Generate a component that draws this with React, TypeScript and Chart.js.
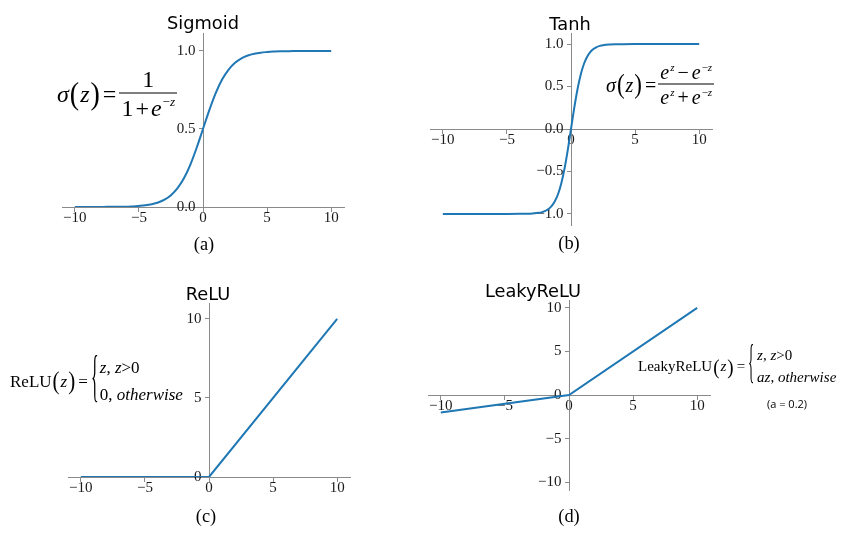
import React, { useEffect, useRef } from 'react';
import { Chart, registerables } from 'chart.js';

Chart.register(...registerables);

// ---------------- data ----------------
const X_TICKS = [-10, -5, 0, 5, 10];
const X_TICK_LABELS = ['−10', '−5', '0', '5', '10'];

const SIGMOID_Z = [
  -10, -9.5, -9, -8.5, -8, -7.5, -7, -6.5, -6, -5.5, -5, -4.5, -4, -3.5, -3, -2.5, -2, -1.5, -1, -0.5,
  0, 0.5, 1, 1.5, 2, 2.5, 3, 3.5, 4, 4.5, 5, 5.5, 6, 6.5, 7, 7.5, 8, 8.5, 9, 9.5, 10,
];
const SIGMOID_Y = [
  0.0, 0.0, 0.0, 0.0, 0.0, 0.001, 0.001, 0.002, 0.002, 0.004, 0.007, 0.011, 0.018, 0.029, 0.047, 0.076, 0.119, 0.182, 0.269, 0.378,
  0.5, 0.622, 0.731, 0.818, 0.881, 0.924, 0.953, 0.971, 0.982, 0.989, 0.993, 0.996, 0.998, 0.998, 0.999, 0.999, 1.0, 1.0, 1.0, 1.0, 1.0,
];
const SIGMOID_Y_TICKS = [0, 0.5, 1.0];
const SIGMOID_Y_LABELS = ['0.0', '0.5', '1.0'];

const TANH_Z = [
  -10, -9, -8, -7, -6, -5, -4, -3.5, -3, -2.5, -2.25, -2, -1.75, -1.5, -1.25, -1, -0.75, -0.5, -0.25,
  0, 0.25, 0.5, 0.75, 1, 1.25, 1.5, 1.75, 2, 2.25, 2.5, 3, 3.5, 4, 5, 6, 7, 8, 9, 10,
];
const TANH_Y = [
  -1, -1, -1, -1, -1, -1, -0.999, -0.998, -0.995, -0.987, -0.978, -0.964, -0.941, -0.905, -0.848, -0.762, -0.635, -0.462, -0.245,
  0, 0.245, 0.462, 0.635, 0.762, 0.848, 0.905, 0.941, 0.964, 0.978, 0.987, 0.995, 0.998, 0.999, 1, 1, 1, 1, 1, 1,
];
const TANH_Y_TICKS = [-1.0, -0.5, 0, 0.5, 1.0];
const TANH_Y_LABELS = ['−1.0', '−0.5', '0.0', '0.5', '1.0'];

const RELU_Z = [-10, 0, 10];
const RELU_Y = [0, 0, 10];
const RELU_Y_TICKS = [0, 5, 10];
const RELU_Y_LABELS = ['0', '5', '10'];

const LEAKY_Z = [-10, 0, 10];
const LEAKY_Y = [-2, 0, 10];
const LEAKY_Y_TICKS = [-10, -5, 0, 5, 10];
const LEAKY_Y_LABELS = ['−10', '−5', '0', '5', '10'];

// ---------------- styles ----------------
const W = 850;
const H = 541;
const BLUE = '#1f77b4';
const AXIS = '#8a8a8a';
const SERIF = '"Liberation Serif", "Times New Roman", serif';
const SANS = '"DejaVu Sans", sans-serif';

type Area = { left: number; right: number; top: number; bottom: number };

type PlotProps = {
  z: number[];
  y: number[];
  smooth: boolean;
  yTicks: number[];
  yLabels: string[];
  yMin: number;
  yMax: number;
  area: Area;
};

function Plot({ z, y, smooth, yTicks, yLabels, yMin, yMax, area }: PlotProps) {
  const ref = useRef<HTMLCanvasElement>(null);
  useEffect(() => {
    if (!ref.current) return;
    const tickFont = { family: SERIF, size: 15, lineHeight: 1 };
    const chart = new Chart(ref.current, {
      type: 'line',
      data: {
        datasets: [
          {
            data: z.map((v, i) => ({ x: v, y: y[i] })),
            borderColor: BLUE,
            borderWidth: 2,
            pointRadius: 0,
            fill: false,
            cubicInterpolationMode: smooth ? 'monotone' : 'default',
            tension: 0,
          },
        ],
      },
      options: {
        animation: false,
        responsive: false,
        events: [],
        layout: {
          padding: { left: area.left, right: W - area.right, top: area.top, bottom: H - area.bottom },
        },
        plugins: { legend: { display: false }, tooltip: { enabled: false }, title: { display: false } },
        scales: {
          x: {
            type: 'linear',
            min: -11,
            max: 11,
            position: { y: 0 } as any,
            afterBuildTicks: (s: any) => {
              s.ticks = X_TICKS.map((v) => ({ value: v }));
            },
            ticks: {
              callback: (_v: any, i: number) => X_TICK_LABELS[i],
              font: tickFont,
              color: '#1a1a1a',
              padding: 0,
              maxRotation: 0,
              minRotation: 0,
              autoSkip: false,
            },
            grid: { drawOnChartArea: false, drawTicks: true, tickLength: 4, color: AXIS },
            border: { display: true, color: AXIS, width: 1 },
          },
          y: {
            type: 'linear',
            min: yMin,
            max: yMax,
            position: { x: 0 } as any,
            afterBuildTicks: (s: any) => {
              s.ticks = yTicks.map((v) => ({ value: v }));
            },
            ticks: {
              callback: (_v: any, i: number) => yLabels[i] + '\u2002',
              font: tickFont,
              color: '#1a1a1a',
              autoSkip: false,
            },
            grid: { drawOnChartArea: false, drawTicks: true, tickLength: 4, color: AXIS },
            border: { display: true, color: AXIS, width: 1 },
          },
        },
      } as any,
    });
    return () => chart.destroy();
  }, []);
  return (
    <canvas
      ref={ref}
      width={W}
      height={H}
      style={{ position: 'absolute', left: 0, top: 0, width: W, height: H }}
    />
  );
}

// ---------------- formula helpers ----------------
function Paren({ ch, size }: { ch: string; size: number }) {
  return (
    <span style={{ display: 'inline-block', fontSize: size, transform: 'scaleY(1.15)', margin: '0 1px' }}>{ch}</span>
  );
}

function Sup({ children }: { children: React.ReactNode }) {
  return (
    <span style={{ fontSize: '0.55em', position: 'relative', top: '-0.75em', marginLeft: 1 }}>{children}</span>
  );
}

function Frac({ num, den }: { num: React.ReactNode; den: React.ReactNode }) {
  return (
    <span style={{ display: 'inline-flex', flexDirection: 'column', alignItems: 'stretch' }}>
      <span style={{ padding: '0 2px 2px', textAlign: 'center' }}>{num}</span>
      <span style={{ borderTop: '1.3px solid #000', padding: '2px 2px 0', textAlign: 'center' }}>{den}</span>
    </span>
  );
}

function Brace({ h }: { h: number }) {
  const fs = h / 0.87;
  return (
    <span style={{ display: 'inline-block', position: 'relative', width: 8, height: h, margin: '0 1px' }}>
      <span
        style={{
          position: 'absolute',
          left: 0,
          top: '50%',
          fontSize: fs,
          lineHeight: 1,
          transform: `translateY(calc(-50% - ${0.078 * fs}px)) scaleX(0.28)`,
          transformOrigin: 'left center',
        }}
      >
        {'{'}
      </span>
    </span>
  );
}

const abs = (left: number, top: number, extra: React.CSSProperties = {}): React.CSSProperties => ({
  position: 'absolute',
  left,
  top,
  lineHeight: 1,
  whiteSpace: 'nowrap',
  color: '#000',
  ...extra,
});

export default function App() {
  useEffect(() => {
    document.body.style.margin = '0';
  }, []);

  const titleStyle = { fontFamily: SANS, fontSize: 17.8, transform: 'translateX(-50%)' };
  const capStyle = { fontFamily: SERIF, fontSize: 18.4, transform: 'translateX(-50%)' };

  return (
    <div style={{ position: 'absolute', left: 0, top: 0, width: W, height: H, background: '#fff', overflow: 'hidden' }}>
      <Plot
        z={SIGMOID_Z}
        y={SIGMOID_Y}
        smooth
        yTicks={SIGMOID_Y_TICKS}
        yLabels={SIGMOID_Y_LABELS}
        yMin={0}
        yMax={1.115}
        area={{ left: 62, right: 344, top: 33, bottom: 207 }}
      />
      <Plot
        z={TANH_Z}
        y={TANH_Y}
        smooth
        yTicks={TANH_Y_TICKS}
        yLabels={TANH_Y_LABELS}
        yMin={-1.13}
        yMax={1.13}
        area={{ left: 430, right: 712, top: 33, bottom: 225 }}
      />
      <Plot
        z={RELU_Z}
        y={RELU_Y}
        smooth={false}
        yTicks={RELU_Y_TICKS}
        yLabels={RELU_Y_LABELS}
        yMin={0}
        yMax={11}
        area={{ left: 68, right: 350, top: 303, bottom: 477 }}
      />
      <Plot
        z={LEAKY_Z}
        y={LEAKY_Y}
        smooth={false}
        yTicks={LEAKY_Y_TICKS}
        yLabels={LEAKY_Y_LABELS}
        yMin={-10.9}
        yMax={10.9}
        area={{ left: 428, right: 710, top: 300, bottom: 490 }}
      />

      {/* titles */}
      <div style={abs(203, 14, titleStyle)}>Sigmoid</div>
      <div style={abs(570, 15, titleStyle)}>Tanh</div>
      <div style={abs(208, 285, titleStyle)}>ReLU</div>
      <div style={abs(533, 282, titleStyle)}>LeakyReLU</div>

      {/* captions */}
      <div style={abs(204, 235, capStyle)}>(a)</div>
      <div style={abs(569, 234, capStyle)}>(b)</div>
      <div style={abs(206, 507, capStyle)}>(c)</div>
      <div style={abs(569, 507, capStyle)}>(d)</div>

      {/* formula (a) */}
      <div
        style={abs(57, 93, {
          transform: 'translateY(-50%)',
          display: 'flex',
          alignItems: 'center',
          fontFamily: SERIF,
          fontSize: 24,
        })}
      >
        <i>σ</i>
        <Paren ch="(" size={28} />
        <i>z</i>
        <Paren ch=")" size={28} />
        <span style={{ margin: '0 3px 0 2px' }}>=</span>
        <Frac
          num={<span>1</span>}
          den={
            <span>
              1<span style={{ margin: '0 2px' }}>+</span>
              <i>e</i>
              <Sup>
                −<i>z</i>
              </Sup>
            </span>
          }
        />
      </div>

      {/* formula (b) */}
      <div
        style={abs(606, 84, {
          transform: 'translateY(-50%)',
          display: 'flex',
          alignItems: 'center',
          fontFamily: SERIF,
          fontSize: 20,
        })}
      >
        <i>σ</i>
        <Paren ch="(" size={23} />
        <i>z</i>
        <Paren ch=")" size={23} />
        <span style={{ margin: '0 2px' }}>=</span>
        <Frac
          num={
            <span>
              <i>e</i>
              <Sup>
                <i>z</i>
              </Sup>
              <span style={{ margin: '0 3px' }}>−</span>
              <i>e</i>
              <Sup>
                −<i>z</i>
              </Sup>
            </span>
          }
          den={
            <span>
              <i>e</i>
              <Sup>
                <i>z</i>
              </Sup>
              <span style={{ margin: '0 3px' }}>+</span>
              <i>e</i>
              <Sup>
                −<i>z</i>
              </Sup>
            </span>
          }
        />
      </div>

      {/* formula (c) */}
      <div
        style={abs(10, 381, {
          transform: 'translateY(-50%)',
          display: 'flex',
          alignItems: 'center',
          fontFamily: SERIF,
          fontSize: 17,
        })}
      >
        <span>ReLU</span>
        <Paren ch="(" size={21} />
        <i>z</i>
        <Paren ch=")" size={21} />
        <span style={{ margin: '0 2px' }}>=</span>
        <Brace h={49} />
        <span style={{ display: 'inline-flex', flexDirection: 'column', lineHeight: '27px' }}>
          <span>
            <i>z</i>, <i>z</i>&gt;0
          </span>
          <span>
            0, <i>otherwise</i>
          </span>
        </span>
      </div>

      {/* formula (d) */}
      <div
        style={abs(638, 366, {
          transform: 'translateY(-50%)',
          display: 'flex',
          alignItems: 'center',
          fontFamily: SERIF,
          fontSize: 15,
        })}
      >
        <span>LeakyReLU</span>
        <Paren ch="(" size={19} />
        <i>z</i>
        <Paren ch=")" size={19} />
        <span style={{ margin: '0 2px' }}>=</span>
        <Brace h={40} />
        <span style={{ display: 'inline-flex', flexDirection: 'column', lineHeight: '22px' }}>
          <span>
            <i>z</i>, <i>z</i>&gt;0
          </span>
          <span>
            <i>az</i>, <i>otherwise</i>
          </span>
        </span>
      </div>

      <div style={abs(767, 398, { fontFamily: '"Open Sans", sans-serif', fontSize: 11 })}>(a = 0.2)</div>
    </div>
  );
}
